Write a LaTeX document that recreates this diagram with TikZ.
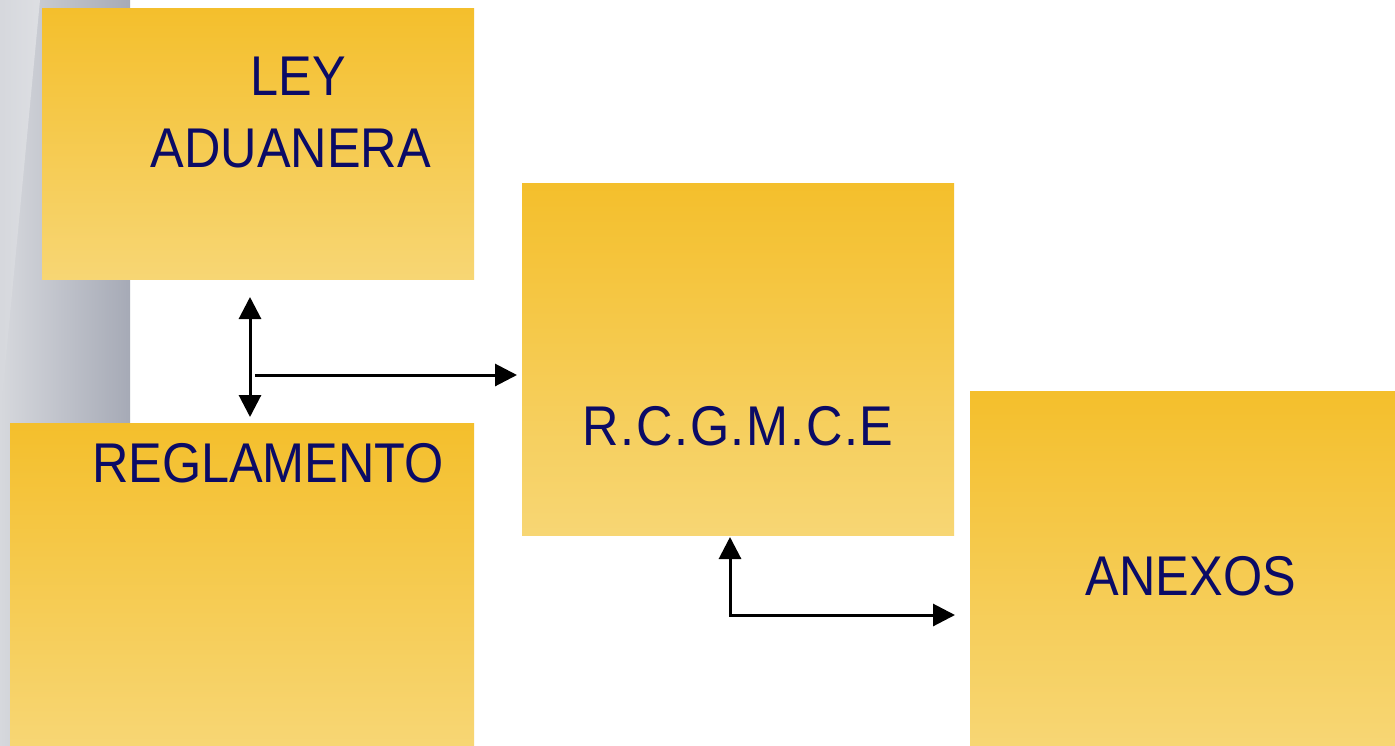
\documentclass[tikz,border=0pt]{standalone}
\usepackage{fontspec}
\newfontfamily\lblfont[FakeStretch=0.9]{Liberation Sans}
\newfontfamily\lblspfont[FakeStretch=0.9,LetterSpace=3]{Liberation Sans}
\usetikzlibrary{arrows.meta,calc}
\definecolor{boxtop}{HTML}{F4BF2C}
\definecolor{boxbot}{HTML}{F7D674}
\definecolor{txt}{HTML}{0B0B66}
\definecolor{stripL}{HTML}{D6D8DD}
\definecolor{stripM}{HTML}{ECEDEF}
\definecolor{stripR}{HTML}{A6AAB6}
\begin{document}
\begin{tikzpicture}[x=1pt,y=-1pt,
  box/.style={draw=none,top color=boxtop,bottom color=boxbot,anchor=north west,inner sep=0pt},
  lbl/.style={font=\lblfont\fontsize{56}{60}\selectfont,text=txt,anchor=base,inner sep=0pt},
  conn/.style={line width=3pt,-{Triangle[length=22pt,width=22pt]}},
  dconn/.style={line width=3pt,{Triangle[length=22pt,width=22pt]}-{Triangle[length=22pt,width=22pt]}}]
\useasboundingbox (0,0) rectangle (1395,745);
\fill[white] (0,0) rectangle (1395,745);
% left decorative strip
\shade[left color=stripL,right color=stripR] (0,0) rectangle (130,745);
\shade[left color=stripL,right color=stripM,opacity=0.6] (0,0) -- (40,0) -- (0,420) -- cycle;
% boxes
\node[box,minimum width=432pt,minimum height=271pt] (ley) at (42,8) {};
\node[box,minimum width=464pt,minimum height=322pt] (reg) at (10,423) {};
\node[box,minimum width=432pt,minimum height=352pt] (rc) at (522,183) {};
\node[box,minimum width=425pt,minimum height=354pt] (anx) at (970,391) {};
% labels
\node[lbl] (t1) at (298,95) {LEY};
\node[lbl] (t2) at (291,167) {ADUANERA};
\node[lbl] (t3) at (268,482) {REGLAMENTO};
\node[lbl,font=\lblspfont\fontsize{56}{60}\selectfont] (t4) at (738,445) {R.C.G.M.C.E};
\node[lbl] (t5) at (1191,595) {ANEXOS};
% connectors
\coordinate (v1) at (250,297);
\coordinate (v2) at (250,417);
\coordinate (h1) at (255,375);
\coordinate (h2) at (517,375);
\coordinate (u1) at (730,537);
\coordinate (u2) at (730,615);
\coordinate (u3) at (955,615);
\draw[dconn] (v1) -- (v2);
\draw[conn] (h1) -- (h2);
\draw[dconn] (u1) -- (u2) -- (u3);
\end{tikzpicture}
\end{document}
